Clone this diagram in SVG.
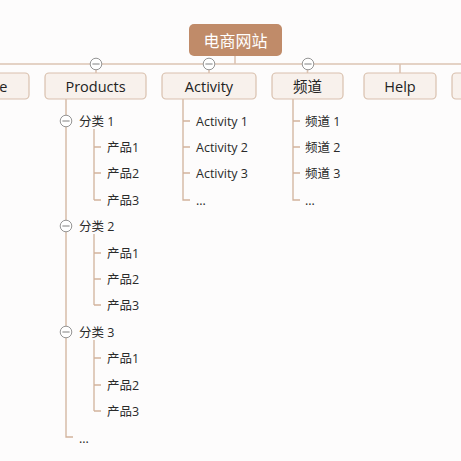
<svg xmlns="http://www.w3.org/2000/svg" width="461" height="461" viewBox="0 0 461 461">
<style>
.bg{fill:#fdfcfc}
.root{fill:#c08b69}
.rt{font-family:"Noto Sans CJK SC","Noto Sans",sans-serif;font-size:16px;fill:#ffffff;text-anchor:middle;dominant-baseline:central}
.box{fill:#f8f1ec;stroke:#d9c0ae;stroke-width:1.2}
.t1{font-family:"Open Sans","Noto Sans","Noto Sans CJK SC",sans-serif;font-size:14.5px;fill:#222222;text-anchor:middle;dominant-baseline:central}
.t2{font-family:"Open Sans","Noto Sans","Noto Sans CJK SC",sans-serif;font-size:12.5px;fill:#2a2a2a;dominant-baseline:central}
.ln{fill:none;stroke:#d2b39c;stroke-width:1.3}
.tp{fill:none;stroke:#dcc4b3;stroke-width:1.6}
.cb circle{fill:#ffffff;stroke:#959595;stroke-width:1}
.cb line{stroke:#808080;stroke-width:1}
</style>
<defs>
<g id="tog" class="cb"><circle cx="0" cy="0" r="5.8"/><line x1="-3.6" y1="0" x2="3.6" y2="0"/></g>
</defs>
<rect class="bg" x="0" y="0" width="461" height="461"/>
<g id="connectors">
<path class="tp" d="M235 56V64M0 64H461M-13 64V73M96 64V73M209 64V73M307.5 64V73M400 64V73M470 64V73"/>
<path class="ln" d="M66 99V437H73M66 121H72M66 226H72M66 332H72"/>
<path class="ln" d="M94 129V200M94 147H101M94 173H101M94 200H101"/>
<path class="ln" d="M94 234V305M94 253H101M94 279H101M94 305H101"/>
<path class="ln" d="M94 340V411M94 358H101M94 385H101M94 411H101"/>
<path class="ln" d="M183 99V200H190M183 121H190M183 147H190M183 173H190"/>
<path class="ln" d="M293 99V200H300M293 121H300M293 147H300M293 173H300"/>
</g>
<g id="root"><rect class="root" x="189" y="24" width="93" height="32" rx="5"/><text class="rt" x="235.5" y="40">电商网站</text></g>
<g id="home"><rect class="box" x="-55" y="73" width="84" height="26" rx="4"/><text class="t1" x="-13" y="86">Home</text></g>
<g id="products"><rect class="box" x="45" y="73" width="101" height="26" rx="4"/><text class="t1" x="95.5" y="86">Products</text></g>
<g id="activity"><rect class="box" x="162" y="73" width="94" height="26" rx="4"/><text class="t1" x="209" y="86">Activity</text></g>
<g id="channel"><rect class="box" x="272" y="73" width="71" height="26" rx="4"/><text class="t1" x="307.5" y="86">频道</text></g>
<g id="help"><rect class="box" x="364" y="73" width="72" height="26" rx="4"/><text class="t1" x="400" y="86">Help</text></g>
<g id="more"><rect class="box" x="452" y="73" width="60" height="26" rx="4"/></g>
<g id="toggles">
<use href="#tog" x="96" y="64"/><use href="#tog" x="209" y="64"/><use href="#tog" x="308" y="64"/>
<use href="#tog" x="66" y="121"/><use href="#tog" x="66" y="226"/><use href="#tog" x="66" y="332"/>
</g>
<g id="cat1"><text class="t2" x="79" y="121">分类 1</text></g>
<g id="p11"><text class="t2" x="107" y="147">产品1</text></g>
<g id="p12"><text class="t2" x="107" y="173">产品2</text></g>
<g id="p13"><text class="t2" x="107" y="200">产品3</text></g>
<g id="cat2"><text class="t2" x="79" y="226">分类 2</text></g>
<g id="p21"><text class="t2" x="107" y="253">产品1</text></g>
<g id="p22"><text class="t2" x="107" y="279">产品2</text></g>
<g id="p23"><text class="t2" x="107" y="305">产品3</text></g>
<g id="cat3"><text class="t2" x="79" y="332">分类 3</text></g>
<g id="p31"><text class="t2" x="107" y="358">产品1</text></g>
<g id="p32"><text class="t2" x="107" y="385">产品2</text></g>
<g id="p33"><text class="t2" x="107" y="411">产品3</text></g>
<g id="pmore"><text class="t2" x="79" y="438">...</text></g>
<g id="a1"><text class="t2" x="196" y="121">Activity 1</text></g>
<g id="a2"><text class="t2" x="196" y="147">Activity 2</text></g>
<g id="a3"><text class="t2" x="196" y="173">Activity 3</text></g>
<g id="amore"><text class="t2" x="196" y="200">...</text></g>
<g id="c1"><text class="t2" x="305" y="121">频道 1</text></g>
<g id="c2"><text class="t2" x="305" y="147">频道 2</text></g>
<g id="c3"><text class="t2" x="305" y="173">频道 3</text></g>
<g id="cmore"><text class="t2" x="305" y="200">...</text></g>
</svg>
